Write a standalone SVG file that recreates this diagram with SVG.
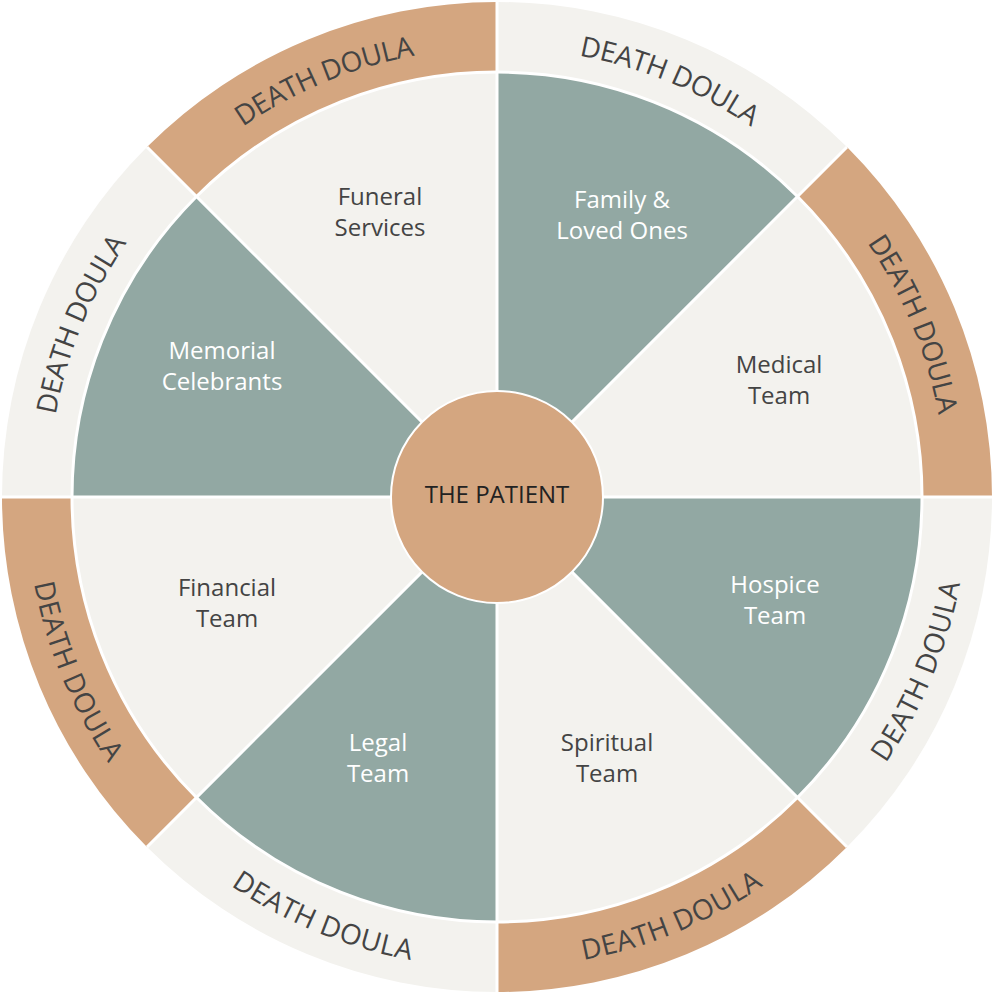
<svg xmlns="http://www.w3.org/2000/svg" xmlns:xlink="http://www.w3.org/1999/xlink" width="1000" height="1000" viewBox="0 0 1000 1000">
<style>
.tan{fill:#D4A680}.teal{fill:#92A8A3}.lt{fill:#F3F2EE}
.sep{stroke:#fff;stroke-width:3;fill:none}
.lbl{font-family:"Source Sans Pro","Open Sans","Noto Sans",sans-serif;font-size:24px;text-anchor:middle}
.dk{fill:#444}.wh{fill:#fff}
.dd{font-family:"Source Sans Pro","Open Sans","Noto Sans",sans-serif;font-size:28px;fill:#444;dominant-baseline:central}
</style>
<defs>
<path id="a1" d="M171.7,171.7 A460,460 0 0 1 497,37"/>
<path id="a2" d="M497,37 A460,460 0 0 1 822.3,171.7"/>
<path id="a3" d="M822.3,171.7 A460,460 0 0 1 957,497"/>
<path id="a4" d="M822.3,822.3 A460,460 0 0 0 957,497"/>
<path id="a5" d="M497,957 A460,460 0 0 0 822.3,822.3"/>
<path id="a6" d="M171.7,822.3 A460,460 0 0 0 497,957"/>
<path id="a7" d="M37,497 A460,460 0 0 0 171.7,822.3"/>
<path id="a8" d="M37,497 A460,460 0 0 1 171.7,171.7"/>
</defs>
<g id="ring">
<path class="tan" d="M147,147 A495,495 0 0 1 497,2 L497,72 A425,425 0 0 0 196.5,196.5Z"/>
<path class="lt" d="M497,2 A495,495 0 0 1 847,147 L797.5,196.5 A425,425 0 0 0 497,72Z"/>
<path class="tan" d="M847,147 A495,495 0 0 1 992,497 L922,497 A425,425 0 0 0 797.5,196.5Z"/>
<path class="lt" d="M992,497 A495,495 0 0 1 847,847 L797.5,797.5 A425,425 0 0 0 922,497Z"/>
<path class="tan" d="M847,847 A495,495 0 0 1 497,992 L497,922 A425,425 0 0 0 797.5,797.5Z"/>
<path class="lt" d="M497,992 A495,495 0 0 1 147,847 L196.5,797.5 A425,425 0 0 0 497,922Z"/>
<path class="tan" d="M147,847 A495,495 0 0 1 2,497 L72,497 A425,425 0 0 0 196.5,797.5Z"/>
<path class="lt" d="M2,497 A495,495 0 0 1 147,147 L196.5,196.5 A425,425 0 0 0 72,497Z"/>
</g>
<g id="wedges">
<path class="lt" d="M497,497 L196.5,196.5 A425,425 0 0 1 497,72Z"/>
<path class="teal" d="M497,497 L497,72 A425,425 0 0 1 797.5,196.5Z"/>
<path class="lt" d="M497,497 L797.5,196.5 A425,425 0 0 1 922,497Z"/>
<path class="teal" d="M497,497 L922,497 A425,425 0 0 1 797.5,797.5Z"/>
<path class="lt" d="M497,497 L797.5,797.5 A425,425 0 0 1 497,922Z"/>
<path class="teal" d="M497,497 L497,922 A425,425 0 0 1 196.5,797.5Z"/>
<path class="lt" d="M497,497 L196.5,797.5 A425,425 0 0 1 72,497Z"/>
<path class="teal" d="M497,497 L72,497 A425,425 0 0 1 196.5,196.5Z"/>
</g>
<g id="connectors">
<path class="sep" d="M497,2V992M2,497H992M147,147L847,847M847,147L147,847"/>
<circle class="sep" cx="497" cy="497" r="425"/>
</g>
<g id="patient">
<circle cx="497" cy="497" r="106" fill="#D4A680" stroke="#fff" stroke-width="2"/>
<text class="lbl" x="497" y="503" fill="#222" font-size="23">THE PATIENT</text>
</g>
<g id="labels">
<text class="lbl dk" x="380" y="205">Funeral<tspan x="380" dy="31">Services</tspan></text>
<text class="lbl wh" x="622" y="208">Family &amp;<tspan x="622" dy="31">Loved Ones</tspan></text>
<text class="lbl wh" x="222" y="359">Memorial<tspan x="222" dy="31">Celebrants</tspan></text>
<text class="lbl dk" x="779" y="373">Medical<tspan x="779" dy="31">Team</tspan></text>
<text class="lbl dk" x="227" y="596">Financial<tspan x="227" dy="31">Team</tspan></text>
<text class="lbl wh" x="775" y="593">Hospice<tspan x="775" dy="31">Team</tspan></text>
<text class="lbl wh" x="378" y="751">Legal<tspan x="378" dy="31">Team</tspan></text>
<text class="lbl dk" x="607" y="751">Spiritual<tspan x="607" dy="31">Team</tspan></text>
</g>
<g id="doulas">
<text class="dd"><textPath xlink:href="#a1" startOffset="50%" text-anchor="middle">DEATH DOULA</textPath></text>
<text class="dd"><textPath xlink:href="#a2" startOffset="50%" text-anchor="middle">DEATH DOULA</textPath></text>
<text class="dd"><textPath xlink:href="#a3" startOffset="50%" text-anchor="middle">DEATH DOULA</textPath></text>
<text class="dd"><textPath xlink:href="#a4" startOffset="50%" text-anchor="middle">DEATH DOULA</textPath></text>
<text class="dd"><textPath xlink:href="#a5" startOffset="50%" text-anchor="middle">DEATH DOULA</textPath></text>
<text class="dd"><textPath xlink:href="#a6" startOffset="50%" text-anchor="middle">DEATH DOULA</textPath></text>
<text class="dd"><textPath xlink:href="#a7" startOffset="50%" text-anchor="middle">DEATH DOULA</textPath></text>
<text class="dd"><textPath xlink:href="#a8" startOffset="50%" text-anchor="middle">DEATH DOULA</textPath></text>
</g>
</svg>
